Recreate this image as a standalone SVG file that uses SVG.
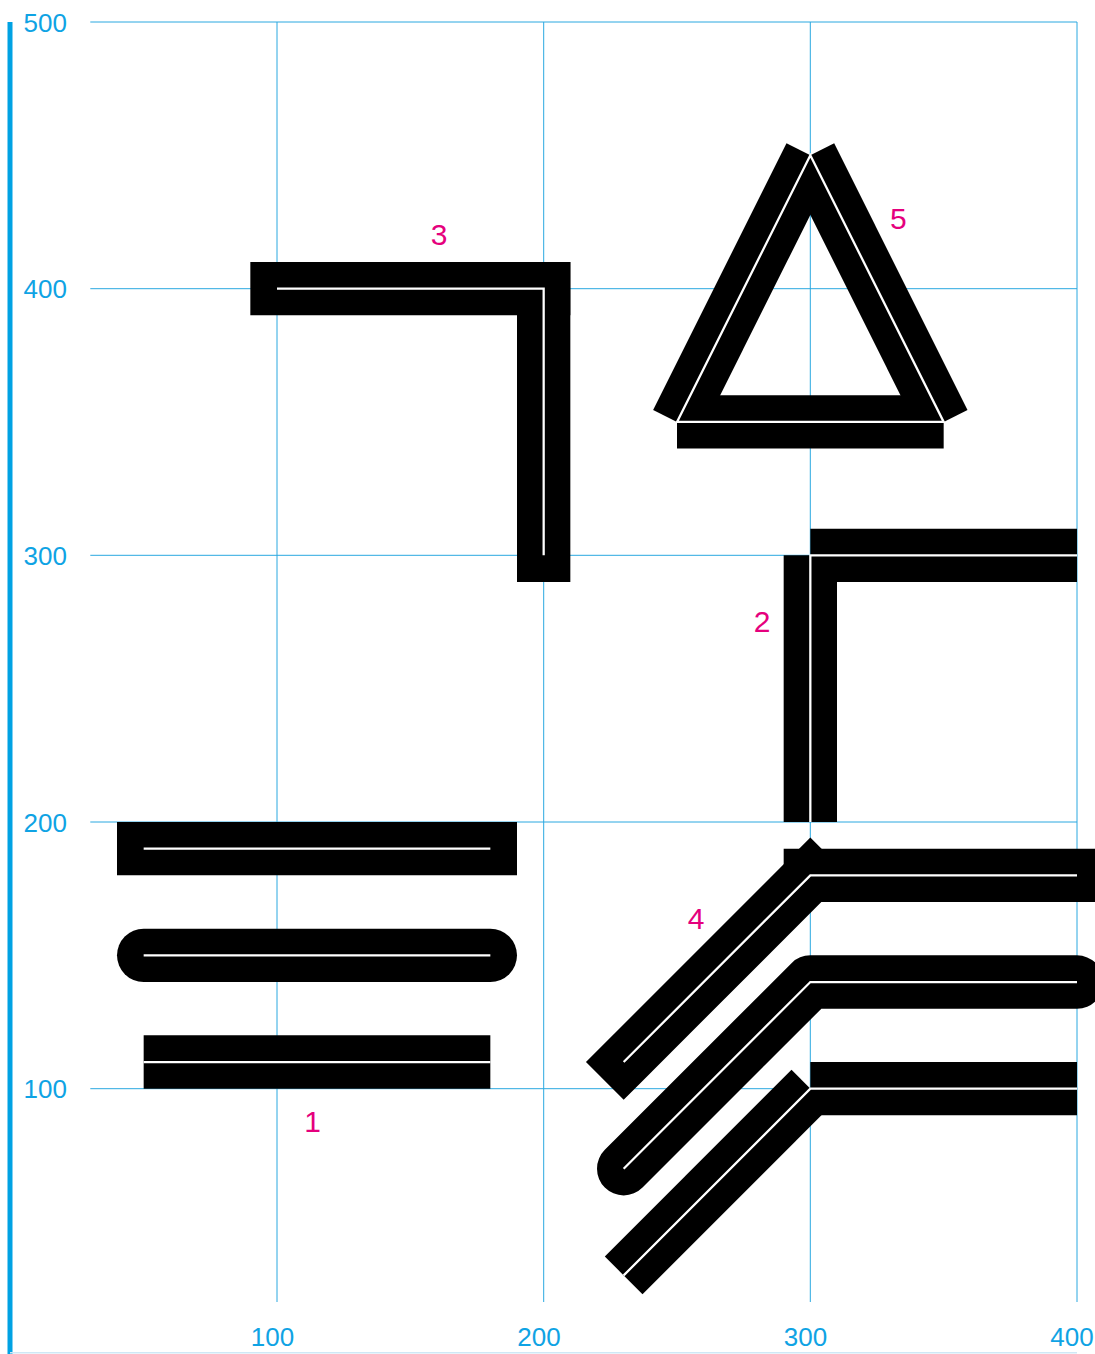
<svg xmlns="http://www.w3.org/2000/svg" width="1095" height="1354" viewBox="0 0 1095 1354">
<style>
.grid{stroke:#2aa8e0;stroke-width:1;fill:none}
.axis{stroke:#00a2e3;stroke-width:5;fill:none}
.base{stroke:#cfe8f6;stroke-width:1.5;fill:none}
.tick{font-family:"Liberation Sans",Arial,sans-serif;font-size:26px;fill:#0fa3e4}
.lbl{font-family:"Liberation Sans",Arial,sans-serif;font-size:30px;fill:#e5007d;text-anchor:middle}
.k{stroke:#000;stroke-width:20;fill:none}
.sq{stroke-linecap:square}
.bt{stroke-linecap:butt}
.rd{stroke-linecap:round;stroke-linejoin:round}
.w{stroke:#fff;stroke-width:0.85;fill:none}
</style>
<rect width="1095" height="1354" fill="#fff"/>
<g id="grid">
<line class="grid" x1="90.3" y1="22" x2="1077" y2="22"/>
<line class="grid" x1="90.3" y1="288.7" x2="1077" y2="288.7"/>
<line class="grid" x1="90.3" y1="555.3" x2="1077" y2="555.3"/>
<line class="grid" x1="90.3" y1="822" x2="1077" y2="822"/>
<line class="grid" x1="90.3" y1="1088.7" x2="1077" y2="1088.7"/>
<line class="grid" x1="277" y1="22" x2="277" y2="1302"/>
<line class="grid" x1="543.7" y1="22" x2="543.7" y2="1302"/>
<line class="grid" x1="810.3" y1="22" x2="810.3" y2="1302"/>
<line class="grid" x1="1077" y1="22" x2="1077" y2="1302"/>
<line class="axis" x1="10" y1="22" x2="10" y2="1354"/>
<line class="base" x1="10" y1="1352.8" x2="1077" y2="1352.8"/>
<text class="tick" x="23.5" y="31.7">500</text>
<text class="tick" x="23.5" y="298.4">400</text>
<text class="tick" x="23.5" y="565">300</text>
<text class="tick" x="23.5" y="831.7">200</text>
<text class="tick" x="23.5" y="1098.4">100</text>
<text class="tick" x="272.5" y="1345.5" text-anchor="middle">100</text>
<text class="tick" x="539" y="1345.5" text-anchor="middle">200</text>
<text class="tick" x="805.5" y="1345.5" text-anchor="middle">300</text>
<text class="tick" x="1072" y="1345.5" text-anchor="middle">400</text>
</g>
<g id="connectors"></g>
<g id="shapes" transform="matrix(2.6667 0 0 -2.6670 10.33 1355.4)">
<g id="node1">
<line class="k sq" x1="50" y1="190" x2="180" y2="190"/>
<line class="k rd" x1="50" y1="150" x2="180" y2="150"/>
<line class="k bt" x1="50" y1="110" x2="180" y2="110"/>
<line class="w" x1="50" y1="190" x2="180" y2="190"/>
<line class="w" x1="50" y1="150" x2="180" y2="150"/>
<line class="w" x1="50" y1="110" x2="180" y2="110"/>
</g>
<g id="node2">
<line class="k bt" x1="300" y1="200" x2="300" y2="300"/>
<line class="k bt" x1="300" y1="300" x2="400" y2="300"/>
<polyline class="w" points="300,200 300,300 400,300"/>
</g>
<g id="node3">
<line class="k sq" x1="100" y1="400" x2="200" y2="400"/>
<line class="k sq" x1="200" y1="400" x2="200" y2="300"/>
<polyline class="w" points="100,400 200,400 200,300"/>
</g>
<g id="node4">
<line class="k sq" x1="230" y1="110" x2="300" y2="180"/>
<line class="k sq" x1="300" y1="180" x2="400" y2="180"/>
<polyline class="k rd" points="230,70 300,140 400,140"/>
<line class="k bt" x1="230" y1="30" x2="300" y2="100"/>
<line class="k bt" x1="300" y1="100" x2="400" y2="100"/>
<polyline class="w" points="230,110 300,180 400,180"/>
<polyline class="w" points="230,70 300,140 400,140"/>
<polyline class="w" points="230,30 300,100 400,100"/>
</g>
<g id="node5">
<line class="k bt" x1="250" y1="350" x2="300" y2="450"/>
<line class="k bt" x1="300" y1="450" x2="350" y2="350"/>
<line class="k bt" x1="350" y1="350" x2="250" y2="350"/>
<polygon class="w" points="250,350 300,450 350,350"/>
</g>
</g>
<g id="labels">
<text class="lbl" x="312.5" y="1132">1</text>
<text class="lbl" x="762" y="631.5">2</text>
<text class="lbl" x="439" y="244.5">3</text>
<text class="lbl" x="696" y="928.7">4</text>
<text class="lbl" x="898.3" y="229.3">5</text>
</g>
</svg>
